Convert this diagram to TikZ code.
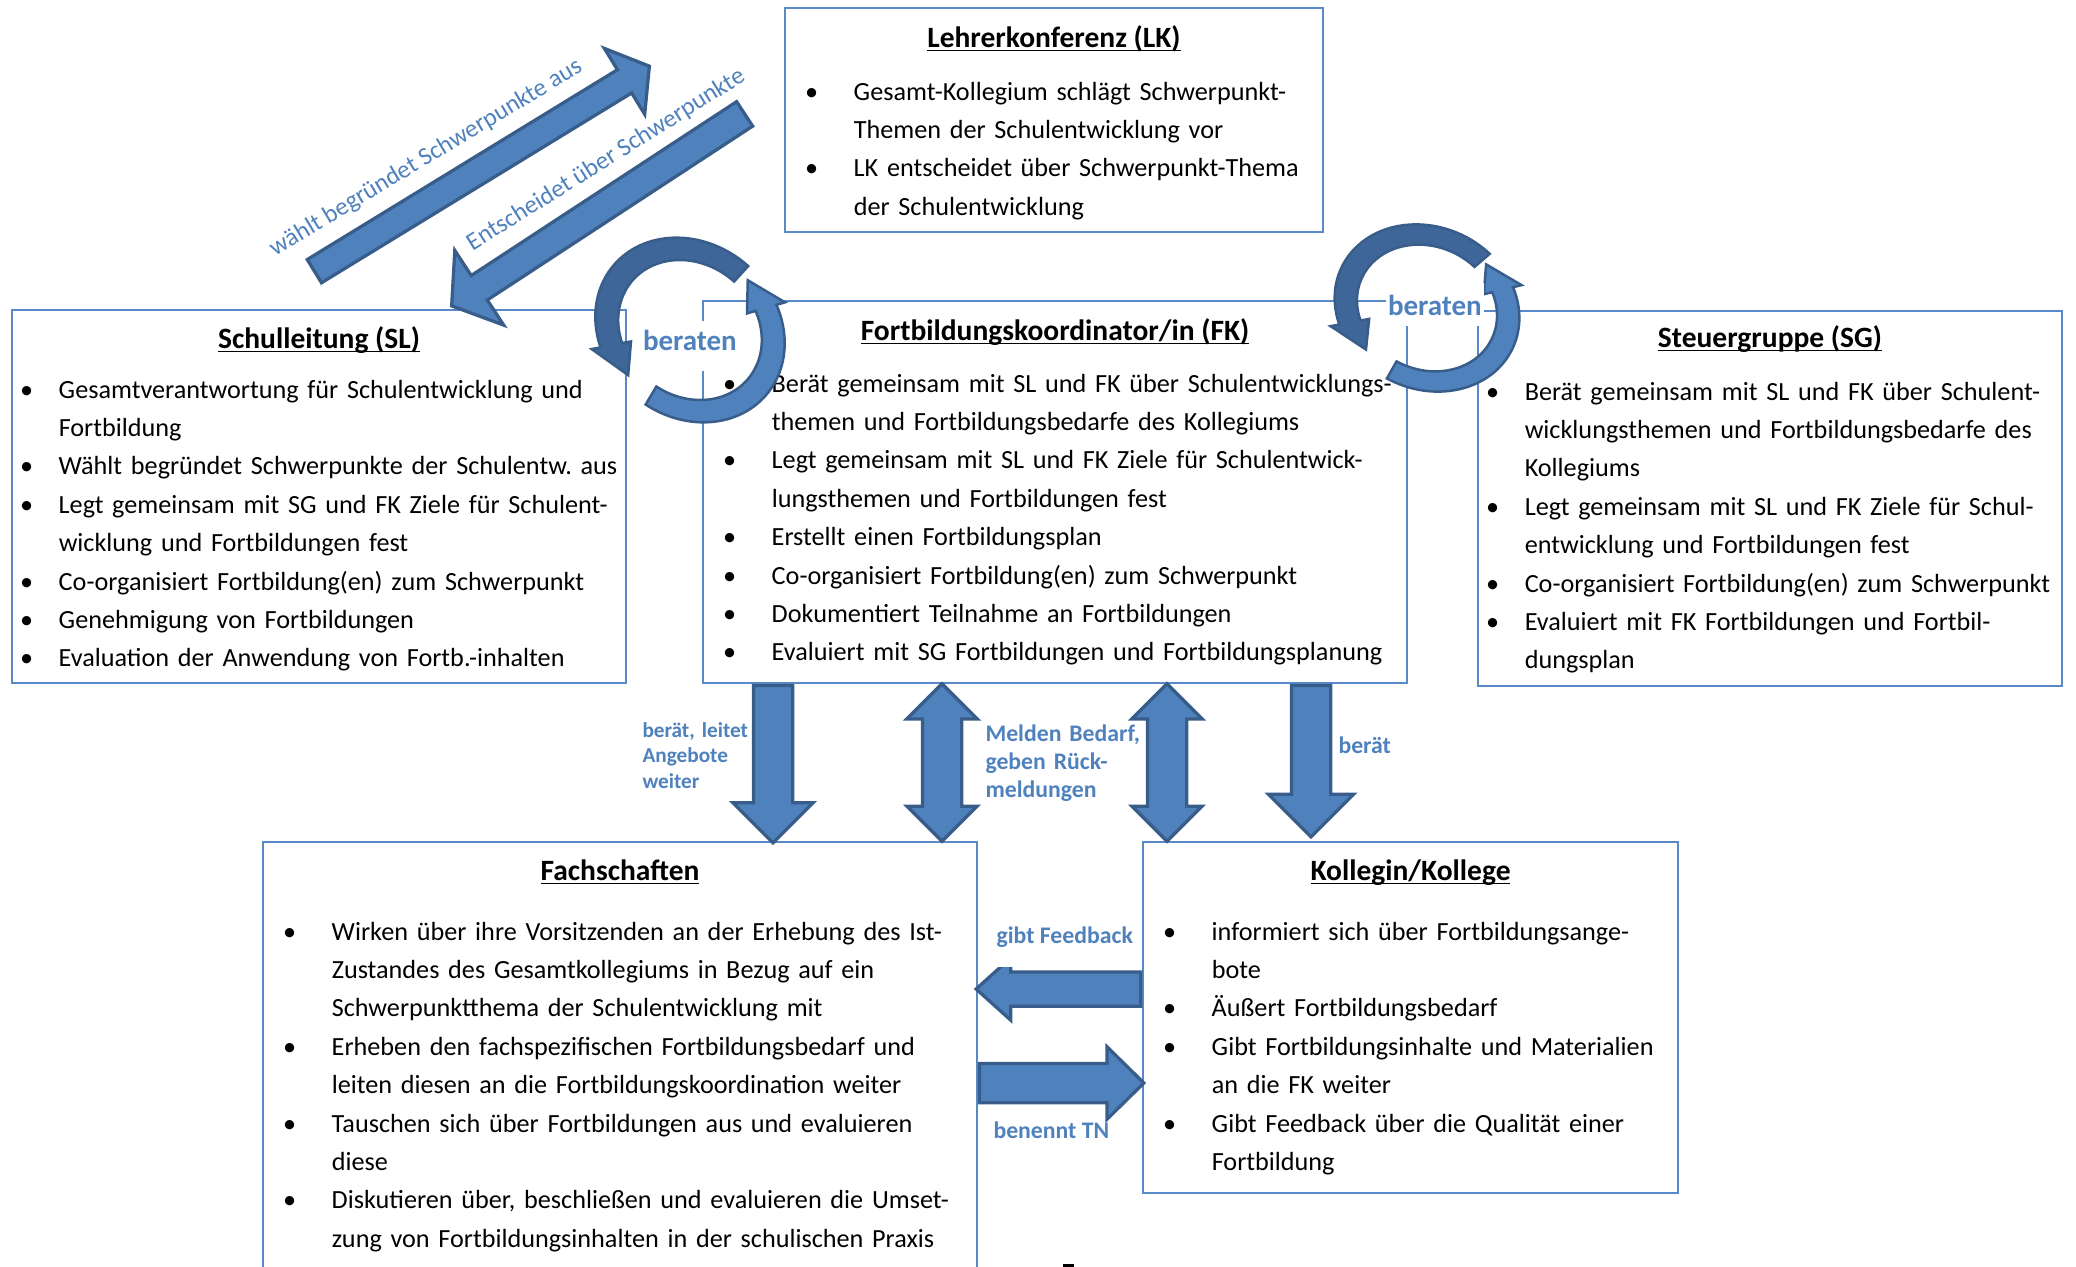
\documentclass[tikz,border=0pt]{standalone}
\usepackage{fontspec}
\setmainfont{Carlito}
\usetikzlibrary{shapes.arrows,fit,calc}
\definecolor{boxline}{HTML}{5A89C8}
\definecolor{arrowfill}{HTML}{4F81BD}
\definecolor{arrowline}{HTML}{385D8A}
\definecolor{ringdark}{HTML}{3F6698}
\definecolor{labelblue}{HTML}{4F81BD}
\frenchspacing
\newlength\bulpos
\newlength\txtind
\newcommand\bitem[1]{\hangindent=\txtind\hangafter=1\makebox[\txtind][l]{\hspace*{\bulpos}\makebox[0pt]{\textbullet}}#1\par}
\newcommand\undl[1]{\setbox0\hbox{#1}\rlap{\rule[-1.6pt]{\wd0}{0.6pt}}\box0}
\newcommand\blockto[4][]{\path let \p1=#2, \p2=#3, \n1={veclen(\x2-\x1,\y2-\y1)} in #2 -- #3 node[pos=0,anchor=tail,sloped,#1,minimum height=\n1] (#4) {};}
\newcommand\ringarrow[8]{\begin{scope}[shift={#1},rotate=#2,xscale=#3,yscale=#4]
\filldraw[ring,fill=#8] (#5:91) arc[start angle=#5,end angle=#6,radius=91] -- (#6:100) -- (#7:80) -- (#6:60) -- (#6:69) arc[start angle=#6,end angle=#5,radius=69] -- cycle;
\end{scope}}
\begin{document}
\begin{tikzpicture}[x=0.4pt,y=-0.4pt,
box/.style={draw=boxline,line width=0.6pt,inner sep=0pt},
head/.style={anchor=base,inner sep=0pt,font=\fontsize{11.8}{14}\selectfont\bfseries},
items/.style={anchor=base west,inner sep=0pt,font=\fontsize{10.48}{15.36}\selectfont},
wide/.style={execute at begin node={\setlength\bulpos{6pt}\setlength\txtind{18.8pt}}},
deep/.style={execute at begin node={\setlength\bulpos{10.8pt}\setlength\txtind{27.6pt}}},
lab/.style={anchor=base west,inner sep=0pt,text=labelblue,font=\fontsize{9.5}{11.2}\selectfont\bfseries},
tag/.style={lab,fill=white,inner xsep=1pt,font=\fontsize{11.6}{14}\selectfont\bfseries},
slant/.style={inner sep=0pt,text=labelblue,font=\fontsize{10}{12}\selectfont},
barrow/.style={single arrow,draw=arrowline,fill=arrowfill,line width=1.3pt,inner sep=0pt,single arrow tip angle=90,allow upside down},
darrow/.style={double arrow,pos=.5,anchor=center,draw=arrowline,fill=arrowfill,line width=1.3pt,inner sep=0pt,double arrow tip angle=90,allow upside down},
ring/.style={draw=arrowline,line width=1pt}]
\useasboundingbox (0,0) rectangle (2076,1267);
\clip (0,0) rectangle (2076,1267);
\node[box,fit={(785,8) (1323,232)}] (lk) {};
\node[box,fit={(12,310) (626,683)}] (sl) {};
\node[box,fit={(703,301) (1407,683)}] (fk) {};
\node[box,fit={(1478,311) (2062,686)}] (sg) {};
\node[box,fit={(263,842) (977,1290)}] (fach) {};
\node[box,fit={(1143,842) (1678,1193)}] (koll) {};
\node[head] (lk-head) at (lk.north |- 0,47) {\undl{Lehrerkonferenz (LK)}};
\node[head] (sl-head) at (sl.north |- 0,348) {\undl{Schulleitung (SL)}};
\node[head] (fk-head) at (fk.north |- 0,340) {\undl{Fortbildungskoordinator/in (FK)}};
\node[head] (sg-head) at (sg.north |- 0,347) {\undl{Steuergruppe (SG)}};
\node[head] (fach-head) at (fach.north |- 0,880) {\undl{Fachschaften}};
\node[head] (koll-head) at (koll.north |- 0,880) {\undl{Kollegin/Kollege}};
\node[items,deep,text width=215pt] (lk-list) at (lk.west |- 0,100) {\bitem{Gesamt-Kollegium schlägt Schwerpunkt-\newline Themen der Schulentwicklung vor}\bitem{LK entscheidet über Schwerpunkt-Thema\newline der Schulentwicklung}};
\node[items,wide,text width=246pt] (sl-list) at (sl.west |- 0,398) {\bitem{Gesamtverantwortung für Schulentwicklung und\newline Fortbildung}\bitem{Wählt begründet Schwerpunkte der Schulentw. aus}\bitem{Legt gemeinsam mit SG und FK Ziele für Schulent-\newline wicklung und Fortbildungen fest}\bitem{Co-organisiert Fortbildung(en) zum Schwerpunkt}\bitem{Genehmigung von Fortbildungen}\bitem{Evaluation der Anwendung von Fortb.-inhalten}};
\node[items,deep,text width=282pt] (fk-list) at (fk.west |- 0,392) {\bitem{Berät gemeinsam mit SL und FK über Schulentwicklungs-\newline themen und Fortbildungsbedarfe des Kollegiums}\bitem{Legt gemeinsam mit SL und FK Ziele für Schulentwick-\newline lungsthemen und Fortbildungen fest}\bitem{Erstellt einen Fortbildungsplan}\bitem{Co-organisiert Fortbildung(en) zum Schwerpunkt}\bitem{Dokumentiert Teilnahme an Fortbildungen}\bitem{Evaluiert mit SG Fortbildungen und Fortbildungsplanung}};
\node[items,wide,text width=234pt] (sg-list) at (sg.west |- 0,400) {\bitem{Berät gemeinsam mit SL und FK über Schulent-\newline wicklungsthemen und Fortbildungsbedarfe des\newline Kollegiums}\bitem{Legt gemeinsam mit SL und FK Ziele für Schul-\newline entwicklung und Fortbildungen fest}\bitem{Co-organisiert Fortbildung(en) zum Schwerpunkt}\bitem{Evaluiert mit FK Fortbildungen und Fortbil-\newline dungsplan}};
\node[items,deep,text width=286pt] (fach-list) at (fach.west |- 0,940) {\bitem{Wirken über ihre Vorsitzenden an der Erhebung des Ist-\newline Zustandes des Gesamtkollegiums in Bezug auf ein\newline Schwerpunktthema der Schulentwicklung mit}\bitem{Erheben den fachspezifischen Fortbildungsbedarf und\newline leiten diesen an die Fortbildungskoordination weiter}\bitem{Tauschen sich über Fortbildungen aus und evaluieren\newline diese}\bitem{Diskutieren über, beschließen und evaluieren die Umset-\newline zung von Fortbildungsinhalten in der schulischen Praxis}};
\node[items,deep,text width=214pt] (koll-list) at (koll.west |- 0,940) {\bitem{informiert sich über Fortbildungsange-\newline bote}\bitem{Äußert Fortbildungsbedarf}\bitem{Gibt Fortbildungsinhalte und Materialien\newline an die FK weiter}\bitem{Gibt Feedback über die Qualität einer\newline Fortbildung}};
\coordinate (pick-tail) at (313,272);
\coordinate (pick-tip) at (648,67);
\coordinate (decide-tail) at (746,113);
\coordinate (decide-tip) at (453,305);
\blockto[barrow,text height=4.8pt,text depth=4.8pt,single arrow head extend=10pt,single arrow tip angle=106]{(pick-tail)}{(pick-tip)}{sl-lk}
\blockto[barrow,text height=5.2pt,text depth=5.2pt,single arrow head extend=12pt,single arrow tip angle=107]{(decide-tail)}{(decide-tip)}{lk-sl}
\blockto[barrow,text height=7.2pt,text depth=7.2pt,single arrow head extend=8.2pt]{(773,0 |- fk.south)}{(773,0 |- fach.north)}{fk-fach}
\blockto[darrow,text height=7.2pt,text depth=7.2pt,double arrow head extend=6.2pt]{(942,0 |- fk.south)}{(942,0 |- fach.north)}{fach-fk}
\blockto[darrow,text height=7.2pt,text depth=7.2pt,double arrow head extend=6.2pt]{(1167,0 |- fk.south)}{(1167,0 |- koll.north)}{koll-fk}
\blockto[barrow,text height=7.2pt,text depth=7.2pt,single arrow head extend=9.2pt]{(1311,0 |- fk.south)}{($(1311,0 |- koll.north)+(0,-6)$)}{fk-koll}
\blockto[barrow,text height=6.2pt,text depth=6.2pt,single arrow head extend=5.6pt,single arrow tip angle=84]{(koll.west |- 0,989)}{(fach.east |- 0,989)}{koll-fach}
\blockto[barrow,text height=7.2pt,text depth=7.2pt,single arrow head extend=6.6pt,single arrow tip angle=89]{(fach.east |- 0,1083)}{(koll.west |- 0,1083)}{fach-koll}
\ringarrow{(690,330)}{-40}{1.1}{0.95}{-88}{-235}{-258}{ringdark}
\ringarrow{(690,330)}{-40}{1.1}{0.95}{-278}{-420}{-442}{arrowfill}
\ringarrow{(1427,308)}{-25}{1.04}{0.89}{-69}{-220}{-243}{ringdark}
\ringarrow{(1427,308)}{-25}{1.04}{0.89}{-266}{-403}{-425}{arrowfill}
\node[slant,rotate=31] (pick-lab) at (426,158) {wählt begründet Schwerpunkte aus};
\node[slant,rotate=32] (decide-lab) at (606,160) {Entscheidet über Schwerpunkte};
\node[tag,text height=11.6pt,text depth=8.4pt] (sl-fk-lab) at (640,350) {beraten};
\node[tag,text height=12.8pt,text depth=4.4pt] (fk-sg-lab) at (1385,315) {beraten};
\node[lab,text width=44.4pt,font=\fontsize{8.5}{10.2}\selectfont\bfseries] (fk-fach-lab) at (642,737) {\makebox[44.4pt][s]{berät, leitet}\\Angebote\\weiter};
\node[lab,text width=62.4pt] (fach-fk-lab) at (985,741) {\makebox[62.4pt][s]{Melden Bedarf,}\\\makebox[62.4pt][s]{geben Rück-}\\meldungen};
\node[lab] (fk-koll-lab) at (1338,753) {berät};
\node[lab,fill=white,text height=9.2pt,text depth=9.6pt,inner xsep=2pt] (koll-fach-lab) at (991,943) {gibt Feedback\hspace{6pt}};
\node[lab] (fach-koll-lab) at (993,1138) {benennt TN};
\fill (1063,1264) rectangle (1074,1268);
\end{tikzpicture}
\end{document}
